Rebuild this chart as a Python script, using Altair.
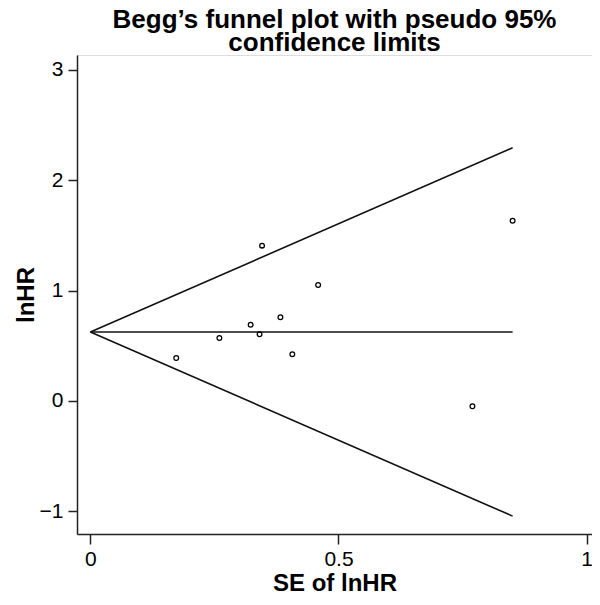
import altair as alt
import pandas as pd

# Study estimates
se = [0.173, 0.260, 0.323, 0.341, 0.346, 0.383, 0.407, 0.459, 0.770, 0.851]
lnhr = [0.389, 0.571, 0.691, 0.604, 1.407, 0.758, 0.423, 1.051, -0.048, 1.633]

# Funnel lines
line_se = [0.0, 0.851]
pooled = [0.625, 0.625]
upper = [0.625, 2.293]
lower = [0.625, -1.043]

x_ticks = [0, 0.5, 1]
y_ticks = [-1, 0, 1, 2, 3]

FONT = "Liberation Sans"
INK = "#222222"

pts = pd.DataFrame({"se": se, "lnhr": lnhr})
lines = pd.DataFrame({
    "se": line_se * 3,
    "val": pooled + upper + lower,
    "which": ["pooled"] * 2 + ["upper"] * 2 + ["lower"] * 2,
})

xscale = alt.Scale(domain=[-0.027, 1.011], nice=False, zero=False)
yscale = alt.Scale(domain=[-1.205, 3.134], nice=False, zero=False)

xaxis = alt.Axis(values=x_ticks, labelExpr="datum.value == 0.5 ? '0.5' : format(datum.value, 'd')",
                 grid=False, tickSize=10, tickWidth=1.5, tickColor=INK,
                 domainColor=INK, domainWidth=1.5, labelFontSize=21, labelFont=FONT,
                 labelColor="#000", labelPadding=4, title="SE of lnHR", titleFont=FONT,
                 titleFontSize=24, titleFontWeight="bold", titleColor="#000", titlePadding=2)
yaxis = alt.Axis(values=y_ticks,
                 labelExpr="datum.value < 0 ? '\u2212' + format(abs(datum.value), 'd') : format(datum.value, 'd')",
                 grid=False, tickSize=9, tickWidth=1.5, tickColor=INK,
                 domainColor=INK, domainWidth=1.5, labelFontSize=21, labelFont=FONT,
                 labelColor="#000", labelPadding=5, title="lnHR", titleFont=FONT,
                 titleFontSize=24, titleFontWeight="bold", titleColor="#000", titlePadding=1)

line_layer = alt.Chart(lines).mark_line(color="#111", strokeWidth=1.6).encode(
    x=alt.X("se:Q", scale=xscale, axis=xaxis),
    y=alt.Y("val:Q", scale=yscale, axis=yaxis),
    detail="which:N",
)

pt_layer = alt.Chart(pts).mark_point(shape="circle", filled=False, color="#000",
                                     size=22, strokeWidth=1.3, opacity=1).encode(
    x=alt.X("se:Q", scale=xscale),
    y=alt.Y("lnhr:Q", scale=yscale),
)

chart = (line_layer + pt_layer).properties(
    width=515,
    height=479,
    autosize=alt.AutoSizeParams(type="none"),
    padding={"left": 69, "top": 47, "right": 0, "bottom": 62},
    title=alt.TitleParams(
        text=["Begg\u2019s funnel plot with pseudo 95%", "confidence limits"],
        font=FONT, fontSize=26, fontWeight="bold", color="#000",
        anchor="middle", offset=-1, lineHeight=23,
    ),
).configure_view(stroke=None).configure(background="white")

chart.save("out.html", embed_options={"renderer": "svg", "actions": False})
